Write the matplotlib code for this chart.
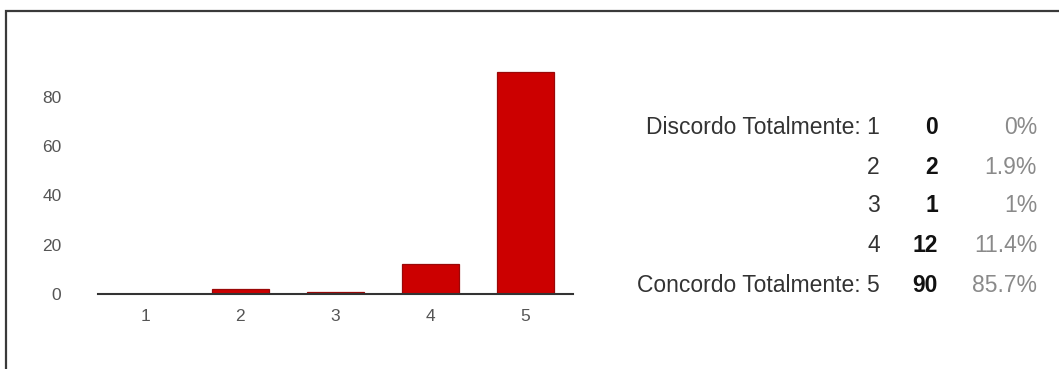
import matplotlib
matplotlib.use("Agg")
import matplotlib.pyplot as plt
from matplotlib.patches import Rectangle

plt.rcParams['font.family'] = ['Liberation Sans', 'DejaVu Sans']

# Survey answers on a 1-5 agreement scale
scale = [1, 2, 3, 4, 5]
scale_names = ["Discordo Totalmente: 1", "2", "3", "4", "Concordo Totalmente: 5"]
counts = [0, 2, 1, 12, 90]
percents = ["0%", "1.9%", "1%", "11.4%", "85.7%"]
yticks = [0, 20, 40, 60, 80]

W, H = 1059, 369
fig = plt.figure(figsize=(W / 100, H / 100), dpi=100)

# Outer frame of the response panel
fig.patches.append(Rectangle((6 / W, -0.1), 1.2, (H - 10.5) / H + 0.1,
                             transform=fig.transFigure, fill=False,
                             edgecolor="#3a3a3a", linewidth=1.6))

# Bar chart area
x0, x1 = 97.5, 573
y0 = 294
ymax = 100
px_per_unit = (294 - 72) / 90
ax_h = ymax * px_per_unit
ax = fig.add_axes([x0 / W, (H - y0) / H, (x1 - x0) / W, ax_h / H])
ax.bar(scale, counts, width=0.6, color="#cc0000", edgecolor="#9a0808",
       linewidth=0.9, zorder=2)
ax.set_xlim(0.5, 5.5)
ax.set_ylim(0, ymax)
ax.set_xticks(scale)
ax.set_xticklabels([str(s) for s in scale])
ax.set_yticks(yticks)
for side in ("top", "right", "left"):
    ax.spines[side].set_visible(False)
ax.spines["bottom"].set_color("#333333")
ax.spines["bottom"].set_linewidth(1.5)
ax.spines["bottom"].set_zorder(3)
ax.tick_params(axis="both", length=0, labelcolor="#555555", labelsize=12.5)
ax.tick_params(axis="y", pad=26)
ax.tick_params(axis="x", pad=11)

# Summary table beside the chart
row_y = [128, 167, 206, 245, 285]
fs = 16.5
for name, c, p, y in zip(scale_names, counts, percents, row_y):
    fy = (H - y) / H
    fig.text(880 / W, fy, name, ha="right", va="center", fontsize=fs,
             color="#333333")
    fig.text(938 / W, fy, str(c), ha="right", va="center", fontsize=fs,
             color="#111111", fontweight="bold")
    fig.text(1037 / W, fy, p, ha="right", va="center", fontsize=fs,
             color="#8a8a8a")

fig.savefig("out.png", dpi=100, facecolor="white")
